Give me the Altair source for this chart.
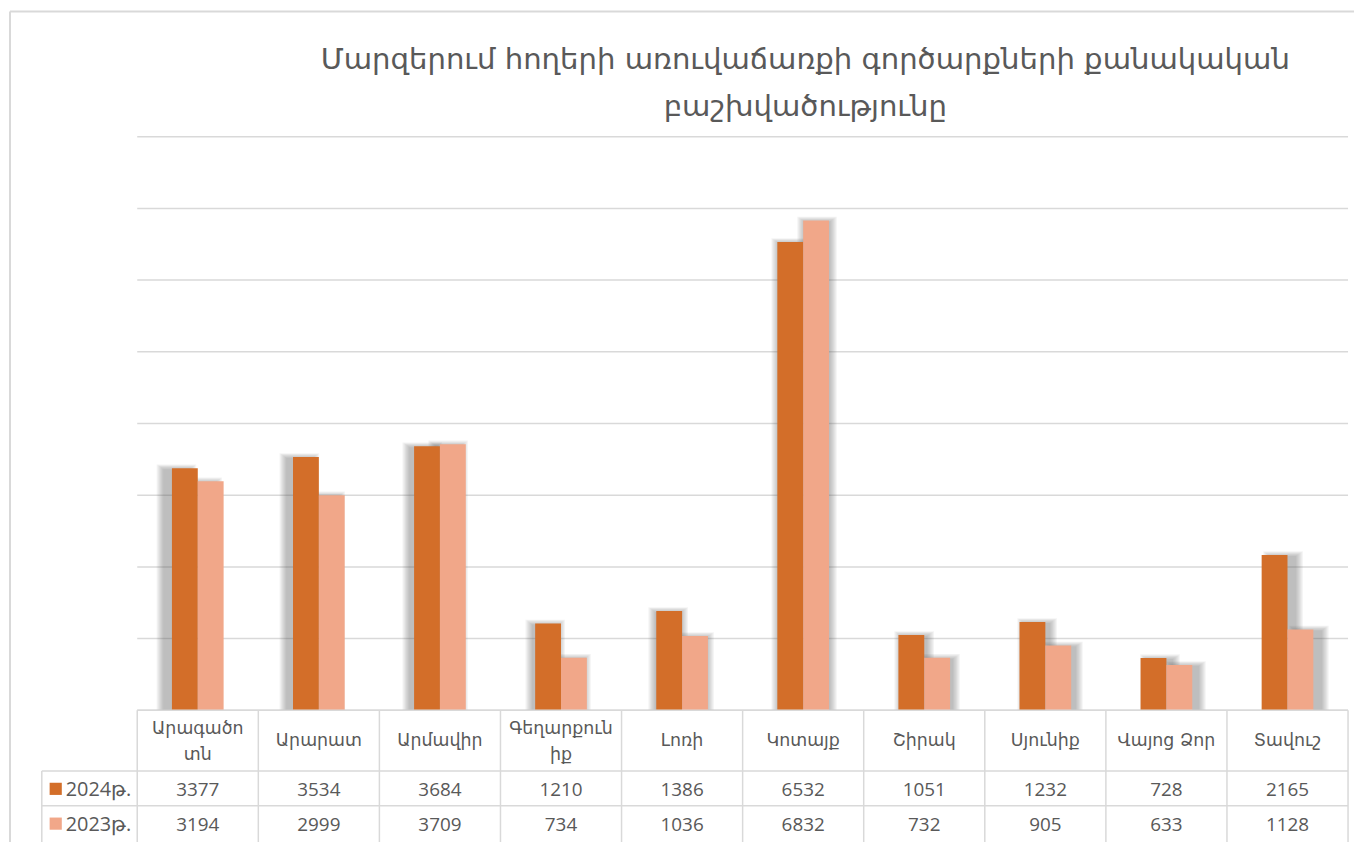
import altair as alt
import pandas as pd

title_lines = ["Մարզերում հողերի առուվաճառքի գործարքների քանակական", "բաշխվածությունը"]
regions = ["Արագածոտն", "Արարատ", "Արմավիր", "Գեղարքունիք", "Լոռի",
           "Կոտայք", "Շիրակ", "Սյունիք", "Վայոց  Ձոր", "Տավուշ"]
table_labels = ["Արագածո\nտն", "Արարատ", "Արմավիր", "Գեղարքուն\nիք", "Լոռի",
                "Կոտայք", "Շիրակ", "Սյունիք", "Վայոց  Ձոր", "Տավուշ"]
series_names = ["2024թ.", "2023թ."]
v2024 = [3377, 3534, 3684, 1210, 1386, 6532, 1051, 1232, 728, 2165]
v2023 = [3194, 2999, 3709, 734, 1036, 6832, 732, 905, 633, 1128]
colors = ["#D36E29", "#F1A789"]
grid_values = [0, 1000, 2000, 3000, 4000, 5000, 6000, 7000, 8000]

W, H = 1218, 577
N = len(regions)
PX = N / W            # category units per pixel
VY = 8000 / H         # value units per pixel
BW = 26 * PX          # bar width in category units
LINE = "#D9D9D9"
TXT = "#595959"
FONT = "DejaVu Sans"

rows = []
for i, r in enumerate(regions):
    rows.append(dict(region=r, idx=i, series=series_names[0], value=v2024[i], side=-1))
    rows.append(dict(region=r, idx=i, series=series_names[1], value=v2023[i], side=0))
df = pd.DataFrame(rows)

xscale = alt.Scale(domain=[0, N], nice=False, zero=False)
yscale = alt.Scale(domain=[0, 8000], nice=False)

base = alt.Chart(df).transform_calculate(
    x0=f"datum.idx + 0.5 + datum.side * {BW}",
    x1=f"datum.idx + 0.5 + (datum.side + 1) * {BW}",
)

layers = []

# horizontal gridlines
gdf = pd.DataFrame({"g": grid_values})
layers.append(
    alt.Chart(gdf).mark_rule(color=LINE, strokeWidth=1.5).encode(
        y=alt.Y("g:Q", scale=yscale, axis=None), x=alt.value(0), x2=alt.value(W)
    )
)

# soft perspective shadows (light from the chart centre)
for k in range(7):
    ex = (0.3 + 1.1 * k) * PX
    layers.append(
        base.transform_calculate(
            sx0=f"datum.x0 + (datum.idx - 4.5) * {1.9 * PX} - {ex}",
            sx1=f"datum.x1 + (datum.idx - 4.5) * {1.9 * PX} + {ex}",
            sy=f"datum.value + {(-1 + 0.8 * k) * VY}",
        ).mark_bar(color="#5f5f5f", opacity=0.07).encode(
            x=alt.X("sx0:Q", scale=xscale, axis=None),
            x2="sx1:Q",
            y=alt.Y("sy:Q", scale=yscale, axis=None),
            y2=alt.datum(0),
        )
    )

# bars
layers.append(
    base.mark_bar().encode(
        x=alt.X("x0:Q", scale=xscale, axis=None),
        x2="x1:Q",
        y=alt.Y("value:Q", scale=yscale, axis=None),
        y2=alt.datum(0),
        color=alt.Color("series:N", scale=alt.Scale(domain=series_names, range=colors), legend=None),
    )
)

# ---- data table ----
dummy = pd.DataFrame({"a": [0]})
bounds = pd.DataFrame({"b": list(range(N + 1))})
layers.append(
    alt.Chart(bounds).mark_rule(color=LINE, strokeWidth=1.5).encode(
        x=alt.X("b:Q", scale=xscale, axis=None), y=alt.value(H), y2=alt.value(H + 160)
    )
)
for yy, xl in [(H, 0), (638, -96), (673, -96)]:
    layers.append(
        alt.Chart(dummy).mark_rule(color=LINE, strokeWidth=1.5).encode(
            x=alt.value(xl), x2=alt.value(W), y=alt.value(yy)
        )
    )
layers.append(
    alt.Chart(dummy).mark_rule(color=LINE, strokeWidth=1.5).encode(
        x=alt.value(-96), y=alt.value(638), y2=alt.value(H + 160)
    )
)
# outer chart frame
layers.append(
    alt.Chart(dummy).mark_rule(color=LINE, strokeWidth=2).encode(
        x=alt.value(-128), y=alt.value(-126), y2=alt.value(H + 160)
    )
)
layers.append(
    alt.Chart(dummy).mark_rule(color=LINE, strokeWidth=2).encode(
        x=alt.value(-128), x2=alt.value(W + 10), y=alt.value(-126)
    )
)

hdr = pd.DataFrame({"idx": list(range(N)), "label": table_labels})
layers.append(
    alt.Chart(hdr).transform_calculate(
        xc="datum.idx + 0.5",
        yy="indexof(datum.label, '\\n') >= 0 ? 596 : 608",
    ).mark_text(
        lineBreak="\n", fontSize=17.5, color=TXT, font=FONT, lineHeight=26, baseline="middle"
    ).encode(x=alt.X("xc:Q", scale=xscale, axis=None), y=alt.Y("yy:Q", scale=None, axis=None), text="label:N")
)
for s, yy in [(series_names[0], 657), (series_names[1], 692)]:
    layers.append(
        base.transform_filter(alt.datum.series == s).transform_calculate(xc="datum.idx + 0.5").mark_text(
            fontSize=19, color=TXT, font="Open Sans", baseline="middle"
        ).encode(x=alt.X("xc:Q", scale=xscale, axis=None), y=alt.value(yy), text="value:Q")
    )

leg = pd.DataFrame({"series": series_names, "yy": [656, 691]})
layers.append(
    alt.Chart(leg).mark_square(size=150, opacity=1).encode(
        x=alt.value(-82), y=alt.Y("yy:Q", scale=None, axis=None),
        color=alt.Color("series:N", scale=alt.Scale(domain=series_names, range=colors), legend=None),
    )
)
layers.append(
    alt.Chart(leg).transform_calculate(ty="datum.yy + 1").mark_text(
        fontSize=20, color=TXT, font="Open Sans", align="left", baseline="middle").encode(
        x=alt.value(-72), y=alt.Y("ty:Q", scale=None, axis=None), text="series:N"
    )
)

# title
ttl = pd.DataFrame({"t": title_lines, "yy": [-77, -30]})
layers.append(
    alt.Chart(ttl).mark_text(fontSize=29.3, color=TXT, font=FONT, baseline="middle", align="center").encode(
        x=alt.value(672), y=alt.Y("yy:Q", scale=None, axis=None), text="t:N"
    )
)

chart = alt.layer(*layers).properties(
    width=W, height=H,
    padding={"left": 130, "top": 127, "right": 6, "bottom": 130},
    autosize=alt.AutoSizeParams(type="none"),
).configure_view(stroke=None)

chart.save("out.html", embed_options={"renderer": "svg", "actions": False})
